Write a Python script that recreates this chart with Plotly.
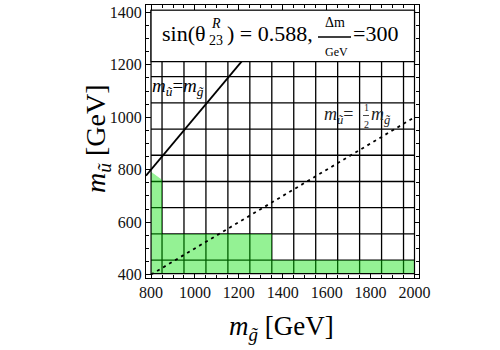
import plotly.graph_objects as go

# Scan cell boundaries (GeV)
grid_gluino = [850, 950, 1050, 1150, 1250, 1350, 1450, 1550, 1650, 1750, 1850, 1950]
grid_squark = [455, 555, 655, 755, 855, 955, 1055, 1155]

# Allowed region outline (gluino mass, squark mass)
allowed_gluino = [800, 800, 850, 850, 1350, 1350, 2000, 2000, 800]
allowed_squark = [404, 792, 762, 555, 555, 455, 455, 404, 404]

# Reference mass relations
equal_gluino = [777, 1400]
equal_squark = [777, 1400]
half_gluino = [800, 2000]
half_squark = [400, 1000]

x_ticks = [800, 1000, 1200, 1400, 1600, 1800, 2000]
y_ticks = [400, 600, 800, 1000, 1200, 1400]

# Frame of the scan and info box (data units)
scan_x0, scan_x1 = 800, 2000
scan_y0, scan_y1 = 404, 1408
box_y0 = 1212

SERIF = "Liberation Serif, Times New Roman, serif"

fig = go.Figure()

# grid of scan cells
gx, gy = [], []
for v in grid_gluino:
    gx += [v, v, None]
    gy += [scan_y0, box_y0, None]
for h in grid_squark:
    gx += [scan_x0, scan_x1, None]
    gy += [h, h, None]
fig.add_trace(go.Scatter(x=gx, y=gy, mode="lines",
                         line=dict(color="black", width=1.3),
                         hoverinfo="skip", showlegend=False))

# allowed region
fig.add_trace(go.Scatter(x=allowed_gluino, y=allowed_squark, mode="lines",
                         fill="toself", fillcolor="rgba(0,225,0,0.42)",
                         line=dict(width=0), hoverinfo="skip", showlegend=False))

# m_u = m_g
fig.add_trace(go.Scatter(x=equal_gluino, y=equal_squark, mode="lines",
                         line=dict(color="black", width=1.8),
                         showlegend=False))
# m_u = m_g / 2
fig.add_trace(go.Scatter(x=half_gluino, y=half_squark, mode="lines",
                         line=dict(color="black", width=1.8, dash="3px,4px"),
                         showlegend=False))

# outer scan box
fig.add_shape(type="rect", xref="x", yref="y", x0=scan_x0, x1=scan_x1,
              y0=scan_y0, y1=scan_y1, line=dict(color="black", width=1.2),
              layer="above")
# info box
fig.add_shape(type="rect", xref="x", yref="y", x0=scan_x0, x1=scan_x1,
              y0=box_y0, y1=scan_y1, fillcolor="white",
              line=dict(color="black", width=1.2), layer="above")

# plot area in pixels: left 146, top 5, size 273
def px(x):
    return (x - 146) / 273

def py(y):
    return (278 - y) / 273

def note(text, x, y, size, xanchor="left", color="black", **kw):
    fig.add_annotation(text=text, x=px(x), y=py(y), xref="paper", yref="paper",
                       xanchor=xanchor, yanchor="middle", showarrow=False,
                       font=dict(family=SERIF, size=size, color=color), **kw)

# info text
note("sin(θ", 160, 34, 22)
note("<i>R</i>", 209, 24, 14)
note("23", 207, 41, 14)
note(") = 0.588,", 225, 34, 22)
note("Δm", 335, 23, 14, xanchor="center")
note("GeV", 336, 52, 12, xanchor="center")
note("=300", 351, 34, 22)
fig.add_shape(type="line", xref="paper", yref="paper",
              x0=px(318), x1=px(351), y0=py(37), y1=py(37),
              line=dict(color="black", width=1.6), layer="above")

# relation labels
note("<i>m</i><sub><i>ũ</i></sub>=<i>m</i><sub><i>g̃</i></sub>", 150, 87, 19)
note("<i>m</i><sub><i>ũ</i></sub>=", 322, 115, 18, color="#222")
note("1", 366, 107, 10, xanchor="center", color="#222")
note("2", 366, 124, 10, xanchor="center", color="#222")
fig.add_shape(type="line", xref="paper", yref="paper",
              x0=px(363), x1=px(369), y0=py(115.5), y1=py(115.5),
              line=dict(color="#333", width=0.9), layer="above")
note("<i>m</i><sub><i>g̃</i></sub>", 369, 115, 18, color="#222")

# axis titles
note("<i>m</i><sub><i>g̃</i></sub> [GeV]", 281, 328, 27, xanchor="center")
fig.add_annotation(text="<i>m</i><sub><i>ũ</i></sub> [GeV]", x=px(97), y=py(139),
                   xref="paper", yref="paper", textangle=-90, showarrow=False,
                   xanchor="center", yanchor="middle",
                   font=dict(family=SERIF, size=28, color="black"))

axis_common = dict(showgrid=False, zeroline=False, showline=True,
                   linecolor="black", linewidth=1.2, mirror="allticks",
                   ticks="inside", ticklen=5, tickwidth=1, tickcolor="black",
                   tickfont=dict(family=SERIF, size=16, color="#111"),
                   minor=dict(dtick=50, ticks="inside", ticklen=3,
                              tickcolor="black", showgrid=False))

fig.update_xaxes(range=[777, 2020.5], tickvals=x_ticks, tick0=800, **axis_common)
fig.update_yaxes(range=[387, 1428], tickvals=y_ticks, tick0=400, **axis_common)
fig.update_layout(width=500, height=350, plot_bgcolor="white",
                  paper_bgcolor="white",
                  font=dict(family=SERIF, size=16, color="#111"),
                  margin=dict(l=146, r=81, t=5, b=72))

fig.write_html("out.html")
